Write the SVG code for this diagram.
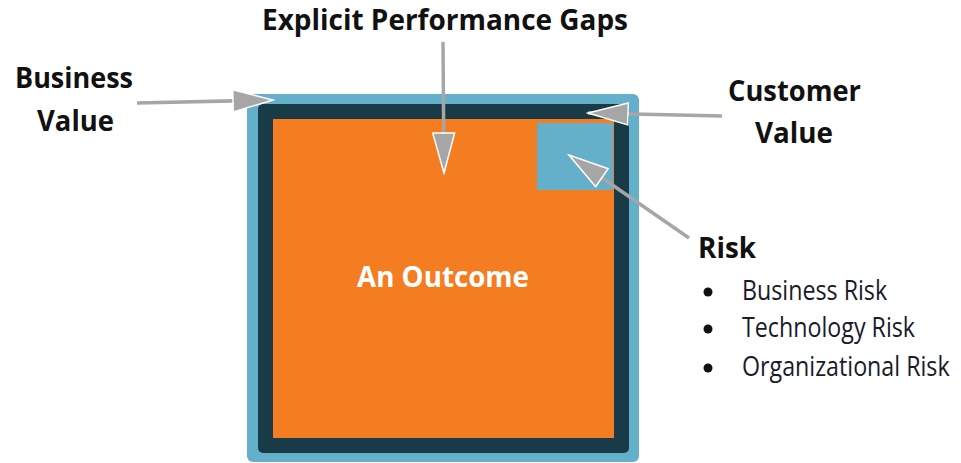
<svg xmlns="http://www.w3.org/2000/svg" width="961" height="463" viewBox="0 0 961 463">
<style>
.lbl{font-family:"Open Sans","Liberation Sans",sans-serif;font-weight:bold;font-size:29px;fill:#111}
.item{font-family:"Open Sans","Liberation Sans",sans-serif;font-size:28px;fill:#1a1a2a}
.conn{stroke:#a6a6a6;stroke-width:3.5;fill:none;marker-end:url(#ah)}
</style>
<defs>
<marker id="ah" markerUnits="userSpaceOnUse" markerWidth="44" markerHeight="28" refX="40" refY="11" orient="auto" viewBox="-2 -2 44 26">
<path d="M0,0 L40,11 L0,22 Z" fill="#a6a6a6" stroke="#ffffff" stroke-width="1.5" stroke-linejoin="miter"/>
</marker>
</defs>
<rect width="961" height="463" fill="#ffffff"/>
<g id="outcome">
<rect x="247" y="94" width="392" height="368" rx="6" fill="#64b0ca"/>
<rect x="258" y="104" width="371" height="349" rx="5" fill="#183b47"/>
<rect x="273" y="119" width="341" height="319" fill="#f47d22"/>
<text x="443" y="287" text-anchor="middle" style="font-family:'Open Sans','Liberation Sans',sans-serif;font-weight:bold;font-size:29px;fill:#ffffff" textLength="172" lengthAdjust="spacingAndGlyphs">An Outcome</text>
</g>
<g id="risk-box">
<rect x="537" y="123" width="76" height="67" fill="#64b0ca"/>
</g>
<g id="connectors">
<line class="conn" x1="137" y1="103" x2="273" y2="100"/>
<line class="conn" x1="443" y1="42" x2="444" y2="173"/>
<line class="conn" x1="722" y1="116" x2="588" y2="113"/>
<line class="conn" x1="689" y1="238" x2="569" y2="155"/>
</g>
<g id="gaps-label">
<text class="lbl" x="262" y="30" textLength="366" lengthAdjust="spacingAndGlyphs">Explicit Performance Gaps</text>
</g>
<g id="business-value">
<text class="lbl" x="15" y="88" textLength="118" lengthAdjust="spacingAndGlyphs">Business</text>
<text class="lbl" x="37" y="131" textLength="77" lengthAdjust="spacingAndGlyphs">Value</text>
</g>
<g id="customer-value">
<text class="lbl" x="728" y="101" textLength="133" lengthAdjust="spacingAndGlyphs">Customer</text>
<text class="lbl" x="755" y="143" textLength="78" lengthAdjust="spacingAndGlyphs">Value</text>
</g>
<g id="risk">
<text class="lbl" x="698" y="258" textLength="58" lengthAdjust="spacingAndGlyphs">Risk</text>
<circle cx="708" cy="292" r="4.5" fill="#111"/>
<circle cx="708" cy="329" r="4.5" fill="#111"/>
<circle cx="708" cy="368" r="4.5" fill="#111"/>
<text class="item" transform="translate(742,300) scale(0.83,1)">Business Risk</text>
<text class="item" transform="translate(742,337) scale(0.83,1)">Technology Risk</text>
<text class="item" transform="translate(742,376) scale(0.83,1)">Organizational Risk</text>
</g>
</svg>
